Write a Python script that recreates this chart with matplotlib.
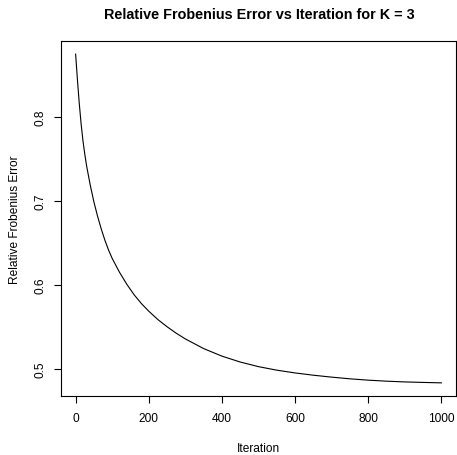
import matplotlib
matplotlib.use("Agg")
import matplotlib.pyplot as plt

# wartosci
iteracje = [0, 5, 10, 15, 20, 25, 30, 40, 50, 60, 70, 80, 90, 100, 120, 140, 160,
            180, 200, 225, 250, 275, 300, 350, 400, 450, 500, 550, 600, 650, 700,
            750, 800, 850, 900, 950, 1000]
blad = [0.875, 0.844, 0.816, 0.792, 0.772, 0.756, 0.742, 0.719, 0.699, 0.682,
        0.667, 0.6535, 0.6418, 0.6318, 0.6153, 0.601, 0.5885, 0.578, 0.569, 0.559,
        0.5505, 0.5428, 0.536, 0.5245, 0.5155, 0.5085, 0.503, 0.4988, 0.4955, 0.4928,
        0.4905, 0.4885, 0.4869, 0.4857, 0.4848, 0.4842, 0.4837]
xticki = [0, 200, 400, 600, 800, 1000]
yticki = [0.5, 0.6, 0.7, 0.8]

plt.rcParams['font.family'] = ['Liberation Sans', 'DejaVu Sans']

fig = plt.figure(figsize=(4.57, 4.56), dpi=100)
ax = fig.add_axes([61 / 457, 1 - 397 / 456, 395 / 457, 355 / 456])

ax.plot(iteracje, blad, color="black", linewidth=0.8)

# zakresy jak w R (4% zapasu)
xr = max(iteracje) - min(iteracje)
yr = max(blad) - min(blad)
ax.set_xlim(min(iteracje) - 0.04 * xr, max(iteracje) + 0.04 * xr)
ax.set_ylim(min(blad) - 0.04 * yr, max(blad) + 0.04 * yr)

ax.set_xticks(xticki)
ax.set_xticklabels([str(t) for t in xticki])
ax.set_yticks(yticki)
ax.set_yticklabels([str(t) for t in yticki], rotation=90, va="center")
ax.tick_params(length=5, width=0.8, labelsize=8.6, pad=6.5, color="black")
ax.tick_params(axis="y", pad=5.5)

for s in ax.spines.values():
    s.set_linewidth(0.8)

ax.set_xlabel("Iteration", fontsize=8.6, labelpad=13)
ax.set_ylabel("Relative Frobenius Error", fontsize=8.6, labelpad=10)
fig.text((61 + 457) / 2 / 457, 1 - 15 / 456, "Relative Frobenius Error vs Iteration for K = 3",
         ha="center", va="center", fontsize=10.4, fontweight="bold")

fig.savefig("out.png", dpi=100)
